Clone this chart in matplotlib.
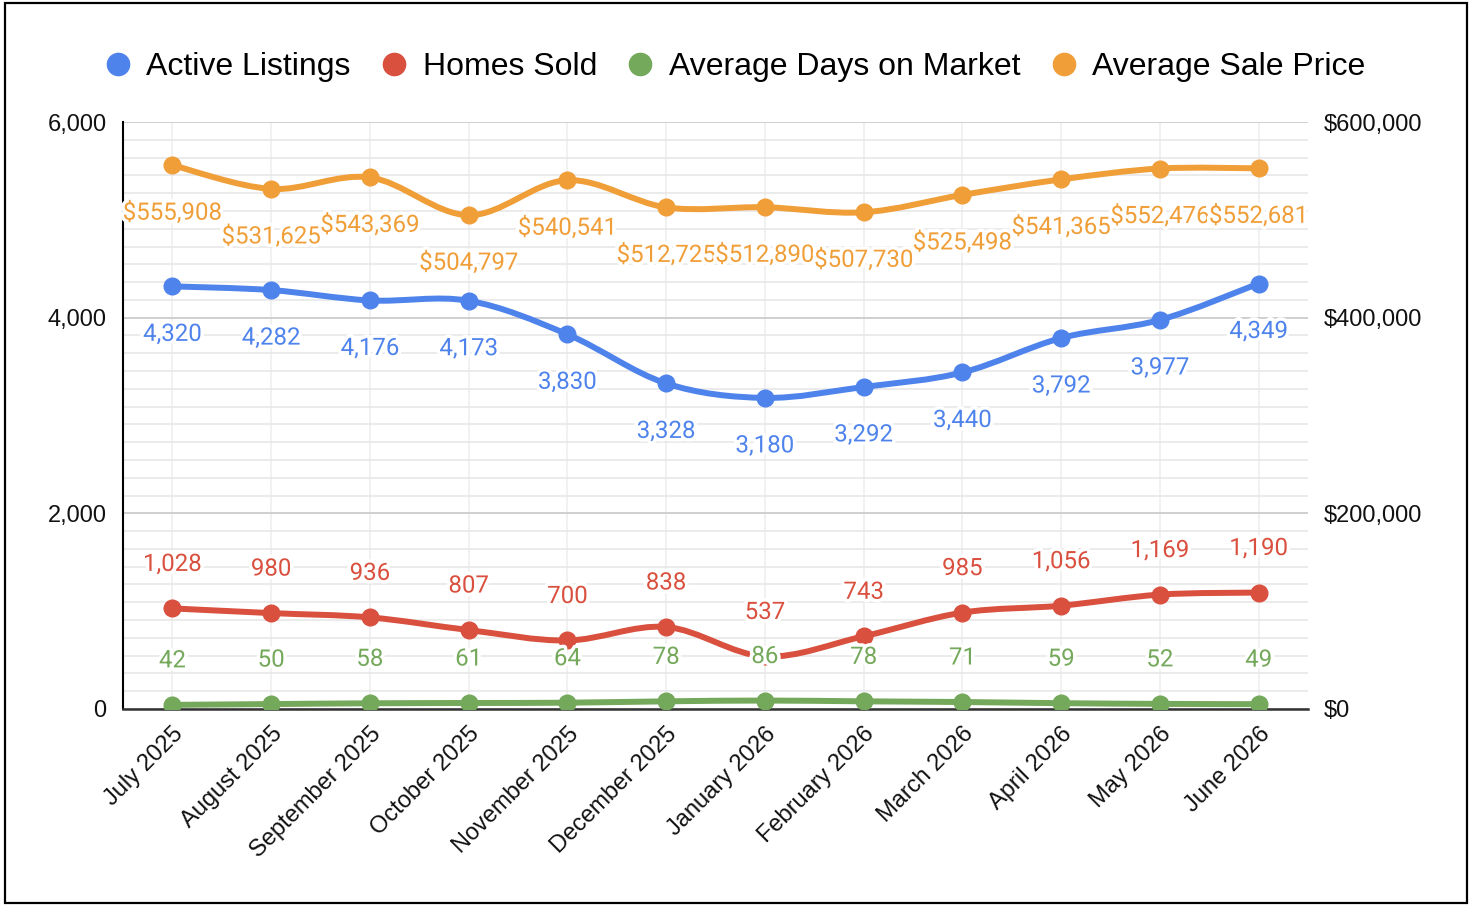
import matplotlib
matplotlib.use("Agg")
import matplotlib.pyplot as plt
import matplotlib.patheffects as pe
from matplotlib.path import Path
from matplotlib.patches import PathPatch, Rectangle
from matplotlib.lines import Line2D
from matplotlib.ticker import FuncFormatter, AutoMinorLocator
import numpy as np

months = ["July 2025", "August 2025", "September 2025", "October 2025", "November 2025",
          "December 2025", "January 2026", "February 2026", "March 2026", "April 2026",
          "May 2026", "June 2026"]
active = [4320, 4282, 4176, 4173, 3830, 3328, 3180, 3292, 3440, 3792, 3977, 4349]
sold = [1028, 980, 936, 807, 700, 838, 537, 743, 985, 1056, 1169, 1190]
days = [42, 50, 58, 61, 64, 78, 86, 78, 71, 59, 52, 49]
price = [555908, 531625, 543369, 504797, 540541, 512725, 512890, 507730, 525498,
         541365, 552476, 552681]

BLUE = "#4f83ec"
RED = "#d9503f"
GREEN = "#74a85a"
ORANGE = "#f09e38"

TICK_FONT = ["Liberation Sans", "DejaVu Sans"]
LABEL_FONT = ["Roboto", "DejaVu Sans"]


def smooth_path(xs, ys):
    # catmull-rom through the points, as bezier segments
    n = len(xs)
    verts = [(xs[0], ys[0])]
    codes = [Path.MOVETO]
    for i in range(n - 1):
        a = i - 1 if i > 0 else i
        d = i + 2 if i + 2 < n else i + 1
        c1 = (xs[i] + (xs[i + 1] - xs[a]) / 6, ys[i] + (ys[i + 1] - ys[a]) / 6)
        c2 = (xs[i + 1] - (xs[d] - xs[i]) / 6, ys[i + 1] - (ys[d] - ys[i]) / 6)
        verts += [c1, c2, (xs[i + 1], ys[i + 1])]
        codes += [Path.CURVE4] * 3
    return Path(verts, codes)


fig = plt.figure(figsize=(14.72, 9.08), dpi=100)
ax = fig.add_axes([0.0836, 0.2192, 0.805, 0.6464])
ax2 = ax.twinx()

x = np.arange(len(months))

ax.set_xlim(-0.5, len(months) - 0.5)
ax.set_ylim(0, 6000)
ax2.set_ylim(0, 600000)
ax.set_yticks([0, 2000, 4000, 6000])
ax2.set_yticks([0, 200000, 400000, 600000])
ax.yaxis.set_minor_locator(AutoMinorLocator(11))
ax.grid(axis="y", which="major", color="#cccccc", lw=1.3, zorder=0)
ax.grid(axis="y", which="minor", color="#e6e6e6", lw=1.1, zorder=0)
ax.grid(axis="x", which="major", color="#eeeeee", lw=1.1, zorder=0)
ax.set_axisbelow(True)

for s in ["top", "right"]:
    ax.spines[s].set_visible(False)
ax.spines["left"].set_color("black")
ax.spines["left"].set_linewidth(1.5)
ax.spines["bottom"].set_color("#333333")
ax.spines["bottom"].set_linewidth(1.8)
for s in ax2.spines.values():
    s.set_visible(False)

ax.yaxis.set_major_formatter(FuncFormatter(lambda v, p: "{:,.0f}".format(v)))
ax2.yaxis.set_major_formatter(FuncFormatter(lambda v, p: "${:,.0f}".format(v)))
ax.tick_params(axis="y", which="both", length=0, pad=12, labelsize=17, labelcolor="#111111")
ax2.tick_params(axis="y", which="both", length=0, pad=11, labelsize=17, labelcolor="#111111")
ax.tick_params(axis="x", length=0, pad=10)
ax.set_xticks(x)
ax.set_xticklabels(months, rotation=45, ha="right", rotation_mode="anchor",
                   fontsize=17, color="#111111")
for t in ax.get_yticklabels() + ax2.get_yticklabels() + ax.get_xticklabels():
    t.set_family(TICK_FONT)

series = [
    (ax, active, BLUE, -48),
    (ax, sold, RED, 44),
    (ax, days, GREEN, 44),
    (ax2, price, ORANGE, -48),
]

for a, vals, col, off in series:
    a.add_patch(PathPatch(smooth_path(x, vals), fill=False, edgecolor=col, lw=4.3,
                          capstyle="round", joinstyle="round", zorder=2))
    a.plot(x, vals, "o", color=col, ms=12, zorder=3)

halo = [pe.withStroke(linewidth=5, foreground="white")]
for a, vals, col, off in series:
    for i, v in enumerate(vals):
        txt = "${:,.0f}".format(v) if a is ax2 else "{:,.0f}".format(v)
        ax2.annotate(txt, (x[i], v), xycoords=a.transData, xytext=(0, off),
                     textcoords="offset pixels", ha="center", va="center",
                     fontsize=17.3, color=col, family=LABEL_FONT,
                     path_effects=halo, zorder=6, annotation_clip=False)

handles = [Line2D([], [], ls="none", marker="o", ms=16, color=c)
           for c in [BLUE, RED, GREEN, ORANGE]]
names = ["Active Listings", "Homes Sold", "Average Days on Market", "Average Sale Price"]
fig.legend(handles, names, loc="center", bbox_to_anchor=(0.4995, 0.926), ncol=4,
           frameon=False, handlelength=0.8, handletextpad=0.5, columnspacing=0.95,
           prop={"family": TICK_FONT, "size": 23})

fig.add_artist(Rectangle((0.0034, 0.0055), 0.9932, 0.9912, transform=fig.transFigure,
                         fill=False, edgecolor="black", lw=1.6))

fig.savefig("out.png", dpi=100)
